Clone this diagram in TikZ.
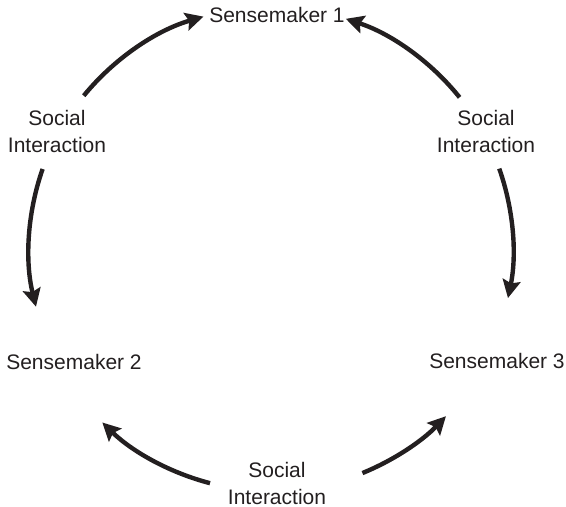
\documentclass[tikz,border=0pt]{standalone}
\usepackage{fontspec}
\setsansfont{Liberation Sans}
\usepackage{tikz}
\usetikzlibrary{arrows.meta,positioning}
\definecolor{ink}{RGB}{35,31,32}
\tikzset{
          maker/.style={font=\fontsize{10.5}{13.5}\selectfont\sffamily,text=ink},
          talk/.style={maker,align=center},
          flow/.style={-{Stealth[length=9pt,width=9pt,inset=1.5pt]},
            line width=2.2pt,draw=ink}
        }
\newcommand\rad{242}
\newcommand\Flow[3]{%
          \coordinate (#1) at (#2:\rad);
          \draw[flow] (#1) arc[start angle=#2,end angle=#3,radius=\rad];
        }

\begin{document}
\begin{tikzpicture}[x=0.5pt,y=0.5pt]
            \useasboundingbox (-271,-258) rectangle (295,249);

            \node[maker] (maker1) at (6,234) {Sensemaker 1};
            \node[maker] (maker2) at (-197,-113) {Sensemaker 2};
            \node[maker] (maker3) at (226,-112) {Sensemaker 3};

            \node[talk] (talk12) at (-214,117.5) {Social\\Interaction};
            \node[talk] (talk13) at (215,117.5) {Social\\Interaction};
            \node[talk] (talk23) at (6,-234) {Social\\Interaction};

            % arcs run from each interaction out to its two makers
            \Flow{f12a}{140.7}{106.2}
            \Flow{f12b}{160.7}{193.8}
            \Flow{f13a}{38.8}{72}
            \Flow{f13b}{19.4}{-11.7}
            \Flow{f23a}{255.4}{225.8}
            \Flow{f23b}{-67.8}{-43.7}
          \end{tikzpicture}
\end{document}
